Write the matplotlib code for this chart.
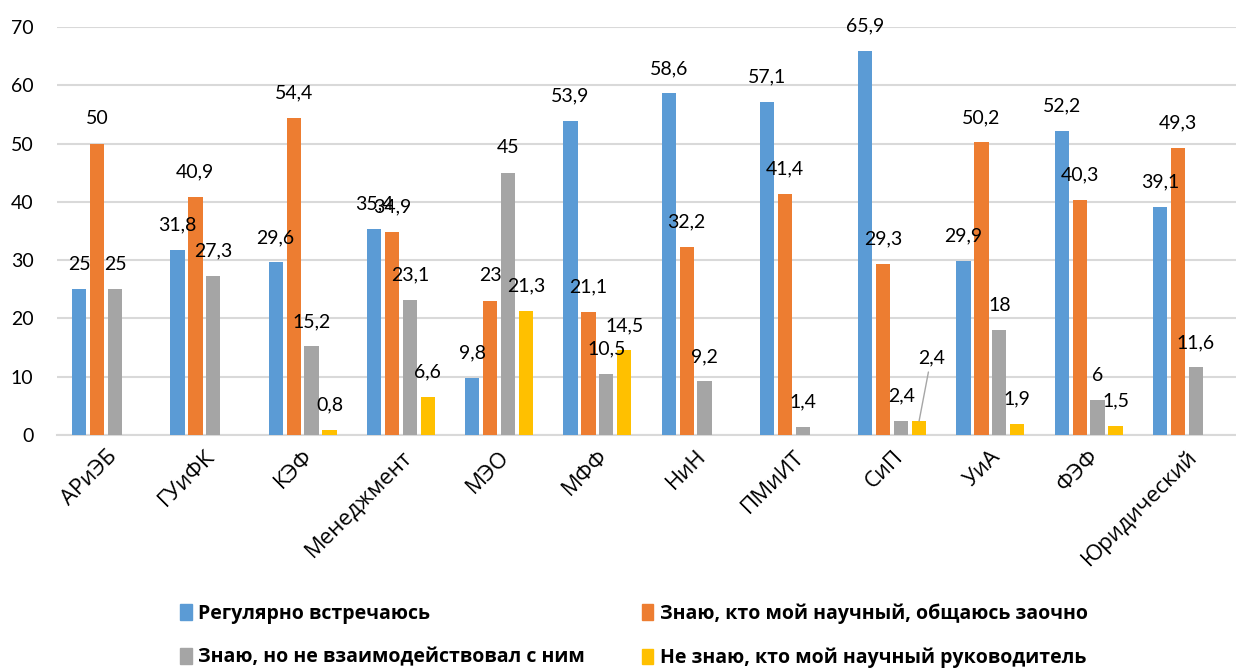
import numpy as np
import matplotlib.pyplot as plt
from matplotlib.patches import Patch

plt.rcParams['font.family'] = ['Lato', 'DejaVu Sans']

categories = ['АРиЭБ', 'ГУиФК', 'КЭФ', 'Менеджмент', 'МЭО', 'МФФ', 'НиН',
              'ПМиИТ', 'СиП', 'УиА', 'ФЭФ', 'Юридический']
series_names = ['Регулярно встречаюсь',
                'Знаю, кто мой научный, общаюсь заочно',
                'Знаю, но не взаимодействовал с ним',
                'Не знаю, кто мой научный руководитель']
regular = [25, 31.8, 29.6, 35.4, 9.8, 53.9, 58.6, 57.1, 65.9, 29.9, 52.2, 39.1]
know_remote = [50, 40.9, 54.4, 34.9, 23, 21.1, 32.2, 41.4, 29.3, 50.2, 40.3, 49.3]
know_no_contact = [25, 27.3, 15.2, 23.1, 45, 10.5, 9.2, 1.4, 2.4, 18, 6, 11.6]
dont_know = [np.nan, np.nan, 0.8, 6.6, 21.3, 14.5, np.nan, np.nan, 2.4, 1.9, 1.5, np.nan]

colors = ['#5B9BD5', '#ED7D31', '#A5A5A5', '#FFC000']
data = [regular, know_remote, know_no_contact, dont_know]

fig = plt.figure(figsize=(12.36, 6.69), dpi=100)
ax = fig.add_axes([57 / 1236, 1 - 435 / 669, 1 - 57 / 1236, 408 / 669])

x = np.arange(len(categories))
step = 0.183
width = 0.145

def fmt(v):
    return ('%g' % v).replace('.', ',')

for i, (vals, c) in enumerate(zip(data, colors)):
    pos = x + (i - 1.5) * step
    ax.bar(pos, vals, width=width, color=c, zorder=3)
    for j, (px, v) in enumerate(zip(pos, vals)):
        if np.isnan(v):
            continue
        if i == 3 and categories[j] == 'СиП':
            # this label was moved up by hand in the original, with a leader line
            ax.annotate(fmt(v), (px, v), xytext=(12, 63), textcoords='offset pixels',
                        ha='center', va='center', fontsize=14, color='#000000',
                        arrowprops=dict(arrowstyle='-', color='#A6A6A6', lw=1,
                                        shrinkA=2, shrinkB=0), zorder=4)
        else:
            ax.annotate(fmt(v), (px, v), xytext=(0, 25), textcoords='offset pixels',
                        ha='center', va='center', fontsize=14, color='#000000', zorder=4)

ax.set_xlim(-0.5, len(categories) - 0.5)
ax.set_ylim(0, 70)
ax.set_yticks(range(0, 71, 10))
ax.yaxis.grid(True, color='#D9D9D9', lw=1.5, zorder=0)
ax.set_axisbelow(True)
for s in ['left', 'right', 'top']:
    ax.spines[s].set_visible(False)
ax.spines['bottom'].set_color('#D9D9D9')
ax.spines['bottom'].set_linewidth(1.5)
ax.tick_params(axis='y', length=0, labelsize=14, pad=17)
ax.tick_params(axis='x', length=0, pad=8)
ax.set_xticks(x)
ax.set_xticklabels(categories, rotation=45, ha='right', va='top', rotation_mode='anchor',
                   fontsize=16, family=['Open Sans', 'DejaVu Sans'])

handles = [Patch(color=colors[k]) for k in [0, 2, 1, 3]]
labels = [series_names[k] for k in [0, 2, 1, 3]]
fig.legend(handles, labels, ncol=2, loc='upper left', bbox_to_anchor=(180 / 1236, 1 - 603 / 669),
           frameon=False, prop={'weight': 'bold', 'size': 14, 'family': ['Open Sans', 'DejaVu Sans']},
           handlelength=0.6, handleheight=0.85, handletextpad=0.35,
           columnspacing=2.9, labelspacing=1.25, borderaxespad=0, borderpad=0)

fig.savefig('out.png', dpi=100)
